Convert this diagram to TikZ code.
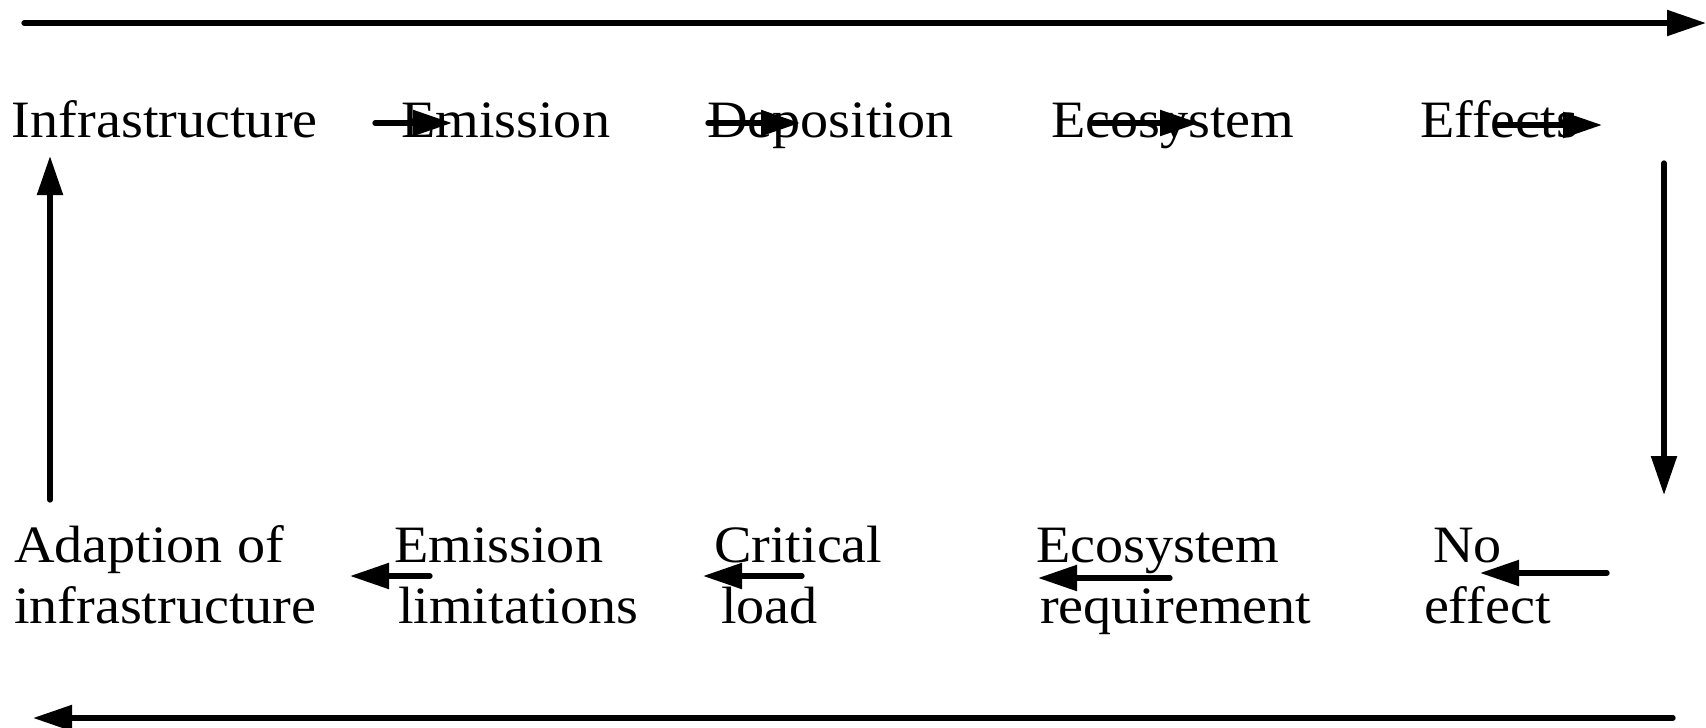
\documentclass[tikz,border=0pt]{standalone}
\usepackage{fontspec}
\setmainfont{Liberation Serif}[FakeStretch=1.07]
\usetikzlibrary{arrows.meta}
\begin{document}
\begin{tikzpicture}[x=1pt,y=-1pt,
  lbl/.style={anchor=base west, inner sep=0pt, outer sep=0pt, align=left,
    font=\fontsize{52.5}{61}\selectfont},
  flow/.style={line width=5.3pt, line cap=round,
    -{Triangle[length=39pt,width=25pt]}},
]
\useasboundingbox (0,0) rectangle (1706,728);

% upper chain: cause to effect
\node[lbl] (infra) at (12,137) {Infrastructure};
\node[lbl] (emis)  at (401,137) {Emission};
\node[lbl] (depo)  at (707,137) {Deposition};
\node[lbl] (eco)   at (1051,137) {Ecosystem};
\node[lbl] (eff)   at (1420,137) {Effects};

% lower chain: back from the ecosystem to the infrastructure
% (anchor is the baseline of the second line)
\node[lbl] (adapt) at (14,623) {Adaption of\\infrastructure};
\node[lbl] (limit) at (394,623) {Emission\\\hspace*{4pt}limitations};
\node[lbl] (crit)  at (714,623) {Critical\\\hspace*{7pt}load};
\node[lbl] (req)   at (1036,623) {Ecosystem\\\hspace*{4pt}requirement};
\node[lbl] (noeff) at (1424,623) {\hspace*{9pt}No\\effect};

% arrow end points
\coordinate (top0) at (24,23);    \coordinate (top1) at (1706,23);
\coordinate (bot0) at (1673,718); \coordinate (bot1) at (33,718);
\coordinate (rv0) at (1664,163);  \coordinate (rv1) at (1664,495);
\coordinate (lv0) at (50,500);    \coordinate (lv1) at (50,156);

\coordinate (a1s) at (375,123);  \coordinate (a1e) at (452,123);
\coordinate (a2s) at (708,123);  \coordinate (a2e) at (800,123);
\coordinate (a3s) at (1093,123); \coordinate (a3e) at (1199,123);
\coordinate (a4s) at (1496,125); \coordinate (a4e) at (1602,125);

\coordinate (b1s) at (430,576);  \coordinate (b1e) at (350,576);
\coordinate (b2s) at (802,576);  \coordinate (b2e) at (703,576);
\coordinate (b3s) at (1170,578); \coordinate (b3e) at (1038,578);
\coordinate (b4s) at (1607,573); \coordinate (b4e) at (1480,573);

% long loop arrows
\draw[flow] (top0) -- (top1);
\draw[flow] (rv0) -- (rv1);
\draw[flow] (bot0) -- (bot1);
\draw[flow] (lv0) -- (lv1);

% short arrows along the rows
\draw[flow] (a1s) -- (a1e);
\draw[flow] (a2s) -- (a2e);
\draw[flow] (a3s) -- (a3e);
\draw[flow] (a4s) -- (a4e);
\draw[flow] (b1s) -- (b1e);
\draw[flow] (b2s) -- (b2e);
\draw[flow] (b3s) -- (b3e);
\draw[flow] (b4s) -- (b4e);
\end{tikzpicture}
\end{document}
